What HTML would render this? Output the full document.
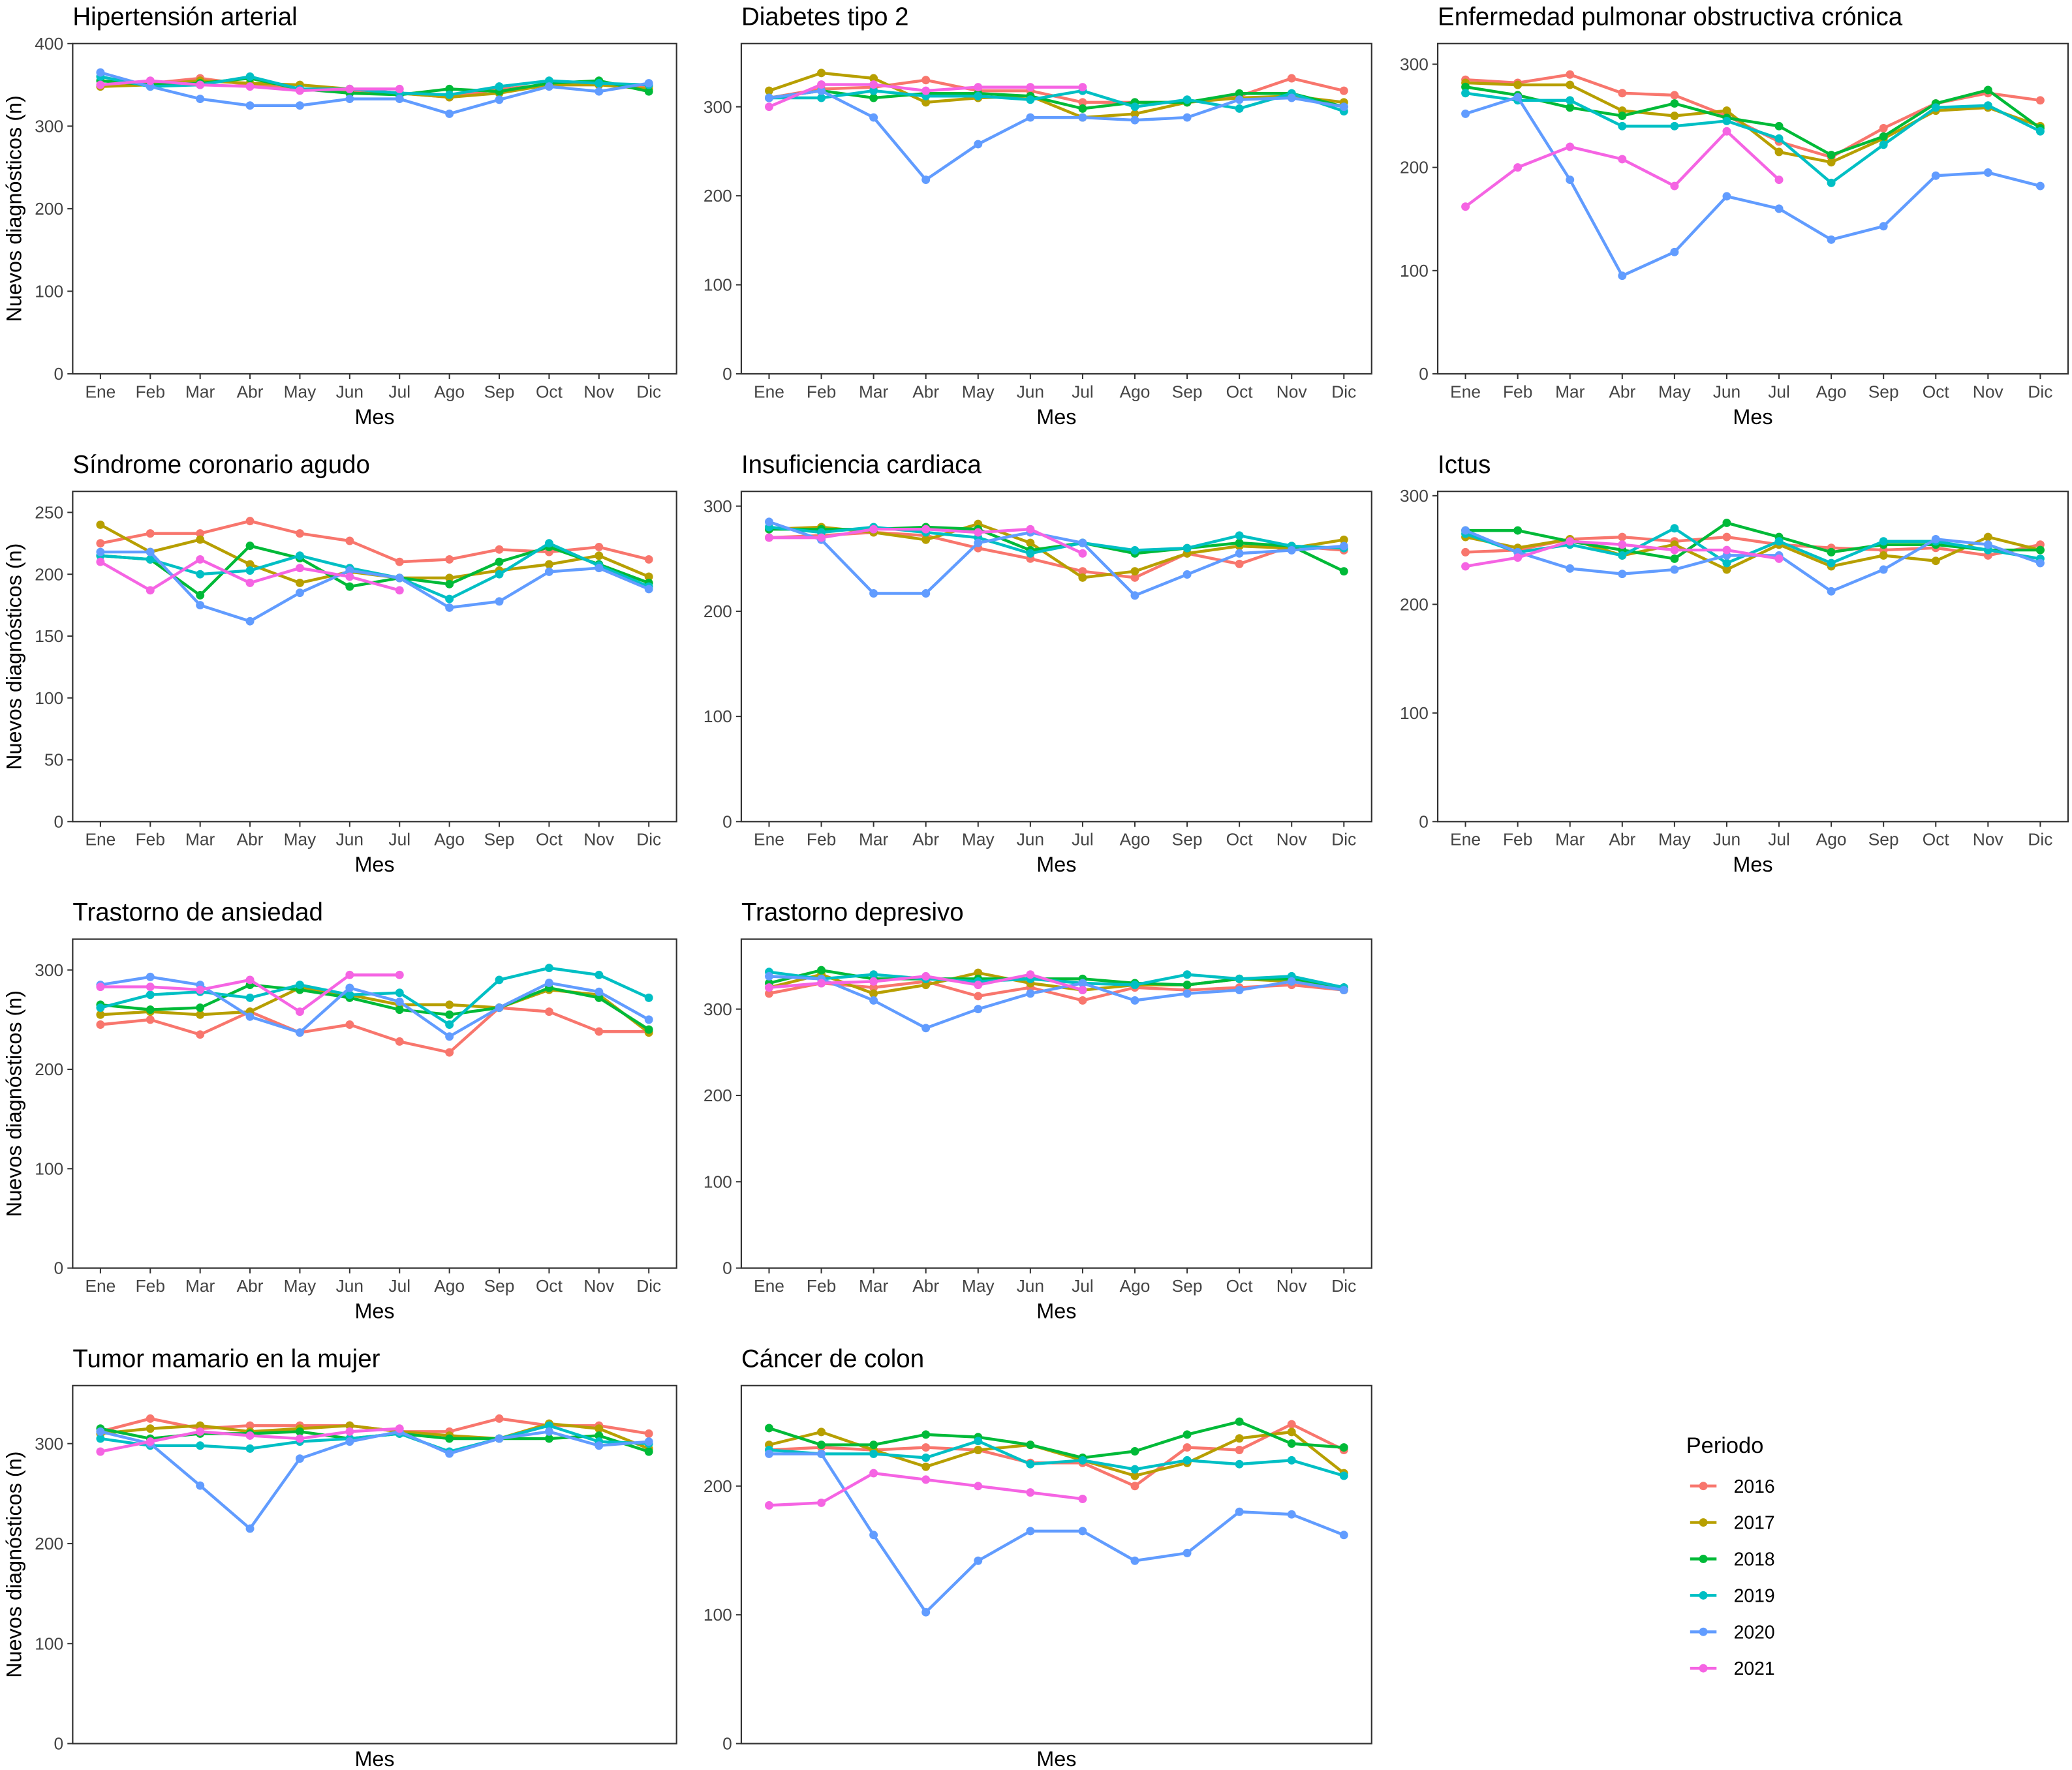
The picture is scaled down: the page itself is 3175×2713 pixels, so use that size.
<!DOCTYPE html>
<html><head><meta charset="utf-8"><style>
html,body{margin:0;padding:0;background:#fff}
svg{display:block;font-family:"Liberation Sans",Arial,sans-serif}
</style></head><body>
<svg id="c" width="3175" height="2713" viewBox="0 0 1568 1340" preserveAspectRatio="none" xmlns="http://www.w3.org/2000/svg"></svg>
<script>
const months=["Ene","Feb","Mar","Abr","May","Jun","Jul","Ago","Sep","Oct","Nov","Dic"];
const years=["2016","2017","2018","2019","2020","2021"];
const colors=["#F8766D","#B79F00","#00BA38","#00BFC4","#619CFF","#F564E3"];
const titles=["Hipertensión arterial","Diabetes tipo 2","Enfermedad pulmonar obstructiva crónica","Síndrome coronario agudo","Insuficiencia cardiaca","Ictus","Trastorno de ansiedad","Trastorno depresivo","Tumor mamario en la mujer","Cáncer de colon"];
const yTicks=[[0,100,200,300,400],[0,100,200,300],[0,100,200,300],[0,50,100,150,200,250],[0,100,200,300],[0,100,200,300],[0,100,200,300],[0,100,200,300],[0,100,200,300],[0,100,200]];
const yMax=[400,371,320,267,314,304,331,381,358,278];
const hta=[[350,352,358,350,345,342,340,335,345,350,350,348],[348,350,355,352,350,345,340,335,340,350,350,345],[355,350,352,358,345,340,338,345,342,352,355,342],[360,348,350,360,345,345,340,338,348,355,352,350],[365,348,333,325,325,333,333,315,332,348,342,352],[350,355,350,348,343,345,345]];
const dm2=[[310,320,322,330,318,318,305,305,305,312,332,318],[318,338,332,305,310,312,288,292,305,310,312,305],[310,318,310,315,315,312,298,305,305,315,315,300],[310,310,318,312,312,308,318,300,308,298,315,295],[310,318,288,218,258,288,288,285,288,308,310,300],[300,325,325,318,322,322,322]];
const epoc=[[285,282,290,272,270,250,225,210,238,262,272,265],[282,280,280,255,250,255,215,205,228,255,258,240],[278,270,258,250,262,248,240,212,230,262,275,238],[272,265,265,240,240,245,228,185,222,258,260,235],[252,268,188,95,118,172,160,130,143,192,195,182],[162,200,220,208,182,235,188]];
const sca=[[225,233,233,243,233,227,210,212,220,218,222,212],[240,218,228,208,193,202,197,197,203,208,215,198],[215,212,183,223,213,190,197,192,210,222,208,193],[215,212,200,203,215,205,197,180,200,225,207,190],[218,218,175,162,185,203,197,173,178,202,205,188],[210,187,212,193,205,198,187]];
const ic=[[270,272,275,272,260,250,238,232,255,245,262,258],[278,280,275,268,283,265,232,238,255,262,260,268],[278,278,278,280,278,258,265,255,260,265,262,238],[280,275,280,275,270,255,265,258,260,272,262,260],[285,268,217,217,265,275,265,215,235,255,258,262],[270,270,278,278,275,278,255]];
const ictus=[[248,250,260,262,258,262,255,252,250,252,245,255],[262,252,260,245,255,232,255,235,245,240,262,250],[268,268,258,250,242,275,262,248,255,255,250,250],[265,248,255,245,270,238,258,238,258,258,250,242],[268,248,233,228,232,245,245,212,232,260,255,238],[235,243,258,255,250,250,242]];
const ansiedad=[[245,250,235,258,237,245,228,217,262,258,238,238],[255,258,255,258,282,275,265,265,262,280,275,237],[265,260,262,285,280,272,260,255,262,282,272,240],[262,275,278,272,285,275,277,245,290,302,295,272],[285,293,285,253,237,282,268,233,262,287,278,250],[283,283,280,290,258,295,295]];
const depresivo=[[318,330,325,332,315,325,310,325,322,325,328,322],[325,340,318,328,342,330,322,328,328,335,332,322],[330,345,335,335,335,335,335,330,328,335,335,325],[343,335,340,335,332,335,330,328,340,335,338,325],[338,335,310,278,300,318,330,310,318,322,332,322],[325,330,332,338,328,340,322]];
const mama=[[312,325,315,318,318,318,312,312,325,318,318,310],[310,315,318,312,315,318,312,308,305,320,315,295],[315,305,310,310,312,305,310,305,305,305,308,292],[305,298,298,295,302,305,310,292,305,318,302,300],[312,300,258,215,285,302,312,290,305,312,298,302],[292,302,312,308,305,312,315]];
const colon=[[228,230,228,230,228,218,218,200,230,228,248,228],[232,242,228,215,228,232,220,208,218,237,242,210],[245,232,232,240,238,232,222,227,240,250,233,230],[228,225,225,222,235,217,220,213,220,217,220,208],[225,225,162,102,142,165,165,142,148,180,178,162],[185,187,210,205,200,195,190]];
const panelData=[hta,dm2,epoc,sca,ic,ictus,ansiedad,depresivo,mama,colon];
const panelCol=[0,1,2,0,1,2,0,1,0,1];
const panelRow=[0,0,0,1,1,1,2,2,3,3];

const svg=document.getElementById('c');
const NS="http://www.w3.org/2000/svg";
function mk(tag,attrs,parent){const e=document.createElementNS(NS,tag);for(const k in attrs)e.setAttribute(k,attrs[k]);(parent||svg).appendChild(e);return e;}
const colX=[55,561,1088],colW=[457,477,477];
const rowY=[33,372,711,1049],rowB=[283,622,960,1320];
panelData.forEach((data,p)=>{
  const col=panelCol[p],row=panelRow[p];
  const x0=colX[col],w=colW[col],y0=rowY[row],y1=rowB[row];
  const pad=21;
  const xs=i=>x0+pad+i*(w-2*pad)/11;
  const ys=v=>y1-v/yMax[p]*(y1-y0);
  const g=mk('g',{});
  
  
  const t=mk('text',{x:x0,y:y0-14,'font-size':19,fill:'#000'},g);t.textContent=titles[p];
  
  
  const fr=mk('rect',{x:x0,y:y0,width:w,height:y1-y0,fill:'none',stroke:'#333','stroke-width':1.1},g);
  
  
  yTicks[p].forEach(v=>{
    const y=ys(v);
    mk('line',{x1:x0-4,x2:x0,y1:y,y2:y,stroke:'#333'},g);
    const tt=mk('text',{x:x0-7,y:y+4.5,'font-size':13,fill:'#444','text-anchor':'end'},g);tt.textContent=v;
    
    
  });
  months.forEach((m,i)=>{
    if(row<3){
      mk('line',{x1:xs(i),x2:xs(i),y1:y1,y2:y1+4,stroke:'#333'},g);
      const tt=mk('text',{x:xs(i),y:y1+18,'font-size':13,fill:'#444','text-anchor':'middle'},g);tt.textContent=m;
      
      
    }
  });
  const xt=mk('text',{x:x0+w/2,y:row<3?y1+38:y1+17,'font-size':16,fill:'#000','text-anchor':'middle'},g);xt.textContent='Mes';
  
  
  if(col===0){
    const cy=(y0+y1)/2;
    const yt=mk('text',{x:16,y:cy,'font-size':16,fill:'#000','text-anchor':'middle',transform:`rotate(-90 16 ${cy})`},g);yt.textContent='Nuevos diagnósticos (n)';
    
    
  }
  data.forEach((s,k)=>{
    const pl=mk('polyline',{points:s.map((v,i)=>xs(i)+','+ys(v)).join(' '),fill:'none',stroke:colors[k],'stroke-width':2.2},g);
    
    
    s.forEach((v,i)=>{
      const c=mk('circle',{cx:xs(i),cy:ys(v),r:3.2,fill:colors[k]},g);
      
      
    });
  });
});
const lg=mk('g',{});


const lt=mk('text',{x:1276,y:1100,'font-size':17,fill:'#000'},lg);lt.textContent='Periodo';


years.forEach((yr,k)=>{
  const y=1125+k*27.6;
  const e=mk('g',{},lg);
  
  
  mk('line',{x1:1279,x2:1299,y1:y,y2:y,stroke:colors[k],'stroke-width':2.2},e);
  mk('circle',{cx:1289,cy:y,r:3.2,fill:colors[k]},e);
  const tx=mk('text',{x:1312,y:y+5,'font-size':14,fill:'#000'},e);tx.textContent=yr;
});
</script>
</body></html>
